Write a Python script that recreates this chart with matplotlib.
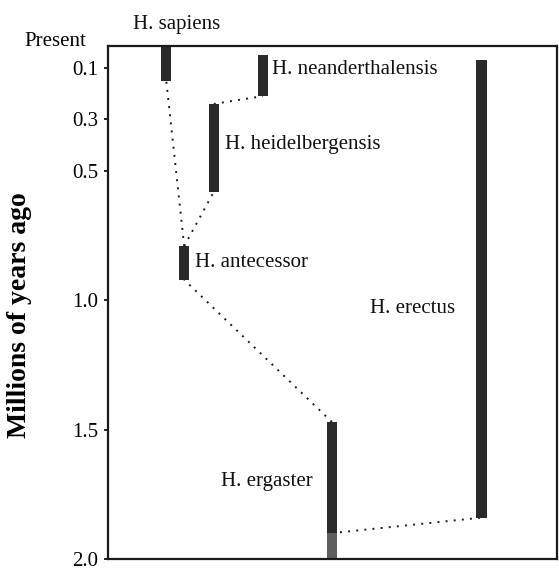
import matplotlib
matplotlib.use("Agg")
import matplotlib.pyplot as plt
import matplotlib.transforms as mtransforms

plt.rcParams['font.family'] = ['Liberation Serif', 'DejaVu Serif']

# ---- data (millions of years ago) ----
species = ["H. sapiens", "H. neanderthalensis", "H. heidelbergensis",
           "H. antecessor", "H. ergaster", "H. erectus"]
age_young = [0.0, 0.05, 0.24, 0.79, 1.47, 0.07]
age_old = [0.15, 0.21, 0.58, 0.92, 2.0, 1.84]
# lighter (less certain) section of H. ergaster
ergaster_faint_from = 1.90

# lineage links: (ancestor, age at ancestor, descendant, age at descendant)
links = [
    ("H. ergaster", 1.90, "H. erectus", 1.84),
    ("H. ergaster", 1.47, "H. antecessor", 0.92),
    ("H. antecessor", 0.79, "H. heidelbergensis", 0.58),
    ("H. antecessor", 0.79, "H. sapiens", 0.15),
    ("H. heidelbergensis", 0.24, "H. neanderthalensis", 0.21),
]

tick_values = [0.1, 0.3, 0.5, 1.0, 1.5, 2.0]
tick_labels = ["0.1", "0.3", "0.5", "1.0", "1.5", "2.0"]
present_label = "Present"
y_label = "Millions of years ago"

# ---- layout (horizontal column of each species, label anchors) ----
column = {"H. sapiens": 13.0, "H. neanderthalensis": 34.5,
          "H. heidelbergensis": 23.6, "H. antecessor": 17.0,
          "H. ergaster": 49.9, "H. erectus": 83.2}
label_pos = {"H. sapiens": (5.6, -0.068), "H. neanderthalensis": (36.5, 0.108),
             "H. heidelbergensis": (26.1, 0.398), "H. antecessor": (19.4, 0.853),
             "H. ergaster": (25.2, 1.70), "H. erectus": (58.4, 1.033)}
bar_w = 2.3

fig = plt.figure(figsize=(5.59, 5.71), dpi=100)
ax = fig.add_axes([0.193, 0.021, 0.803, 0.8985])
ax.set_xlim(0, 100)
ax.set_ylim(2.0, 0.016)

# dotted links (under bars)
for a, ya, d, yd in links:
    ax.plot([column[a], column[d]], [ya, yd], linestyle=(0, (1, 3.2)),
            color="#1a1a1a", linewidth=1.4, zorder=1, clip_on=False)

# bars
for name, y0, y1 in zip(species, age_young, age_old):
    x = column[name]
    if name == "H. ergaster":
        ax.bar(x, ergaster_faint_from - y0, bottom=y0, width=bar_w,
               color="#2a2a2a", zorder=2)
        ax.bar(x, y1 - ergaster_faint_from, bottom=ergaster_faint_from,
               width=bar_w, color="#5e5e5e", zorder=2)
    else:
        ax.bar(x, y1 - y0, bottom=y0, width=bar_w, color="#2a2a2a", zorder=2)

# species labels
for name in species:
    lx, ly = label_pos[name]
    ax.text(lx, ly, name, fontsize=15, ha="left", va="center",
            color="#111111", clip_on=False)

ax.set_yticks(tick_values)
ax.set_yticklabels(tick_labels, fontsize=15)
ax.set_xticks([])
ax.tick_params(axis="y", direction="out", length=3, width=1.2, pad=4)

trans = mtransforms.blended_transform_factory(ax.transAxes, ax.transData)
ax.text(-0.049, 0.0, present_label, transform=trans, fontsize=15,
        ha="right", va="center", clip_on=False)

ax.set_ylabel(y_label, fontsize=20, fontweight="bold")
ax.yaxis.set_label_coords(-0.168, 0.476)

for s in ax.spines.values():
    s.set_linewidth(1.6)
    s.set_color("#1a1a1a")

fig.savefig("out.png", dpi=100)
